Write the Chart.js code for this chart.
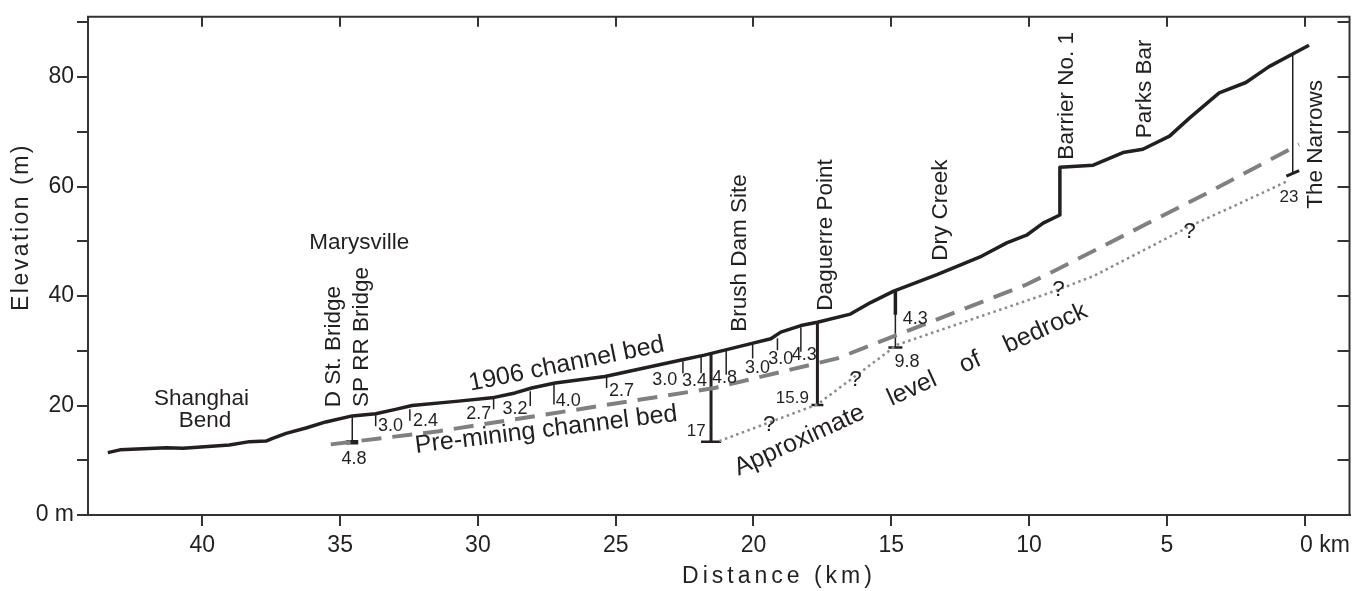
<!DOCTYPE html>
<html>
<head>
<meta charset="utf-8">
<script src="https://cdn.jsdelivr.net/npm/chart.js@4.4.1/dist/chart.umd.min.js"></script>
<style>
  html, body { margin: 0; padding: 0; background: #fff; }
  #wrap { width: 1362px; height: 591px; position: relative; }
</style>
</head>
<body>
<div id="wrap"><canvas id="profile"></canvas></div>
<script>
// Yuba River profile, distance measured upstream of The Narrows
const INK = '#231f20';
const GREY = '#808080';
const FONT = '"Liberation Sans", Arial, Helvetica, sans-serif';

// 1906 channel bed
const bed1906Km = [43.43, 42.99, 41.30, 40.70, 39.02, 38.29, 37.69, 37.45, 36.96, 36.24, 35.52, 34.56,
  33.71, 32.99, 32.39, 30.70, 29.49, 28.65, 28.05, 27.20, 25.39, 22.62, 21.78, 20.09, 19.37, 19.01,
  18.28, 17.68, 16.48, 15.75, 14.91, 13.34, 11.71, 10.81, 10.09, 9.49, 8.88, 8.88, 7.67, 6.59, 5.87,
  4.90, 4.18, 3.10, 2.13, 1.29, -0.16];
const bed1906M = [11.4, 11.9, 12.3, 12.2, 12.8, 13.4, 13.5, 14.0, 14.9, 15.9, 17.0, 18.1,
  18.5, 19.3, 20.0, 20.8, 21.4, 22.3, 23.2, 24.1, 25.3, 28.3, 29.2, 31.3, 32.2, 33.4,
  34.6, 35.2, 36.7, 38.8, 40.9, 43.9, 47.3, 49.7, 51.1, 53.3, 54.8, 63.5, 63.9, 66.2, 66.8,
  69.2, 72.5, 77.1, 79.0, 81.9, 85.8];

// Pre-mining channel bed
const preMiningKm = [35.34, 31.42, 21.42, 16.96, 10.09, 9.00, 3.46, 0.20];
const preMiningM = [12.9, 15.3, 23.2, 28.6, 42.1, 44.8, 59.0, 67.7];

// Approximate level of bedrock
const bedrockKm = [21.24, 17.68, 14.78, 9.24, 7.68, 4.06, 2.49, 0.57];
const bedrockM = [13.5, 20.2, 31.1, 40.6, 43.6, 53.0, 56.6, 61.1];

// long measured sections (1906 bed down to bedrock / pre-mining bed)
const gaugeKm = [34.56, 21.54, 17.68, 14.85, 0.43];
const gaugeTop = [18.1, 29.4, 35.2, 40.9, 84.3];
const gaugeBottom = [13.3, 13.4, 20.1, 30.6, 62.4];
const gaugeLabels = ['4.8', '17', '15.9', '9.8', '23'];

// Dry Creek: fill above the pre-mining bed
const dryCreekKm = [14.85];
const dryCreekTop = [40.9];
const dryCreekBottom = [36.6];
const dryCreekLabels = ['4.3'];

// short thickness ticks along the 1906 bed
const fillKm = [33.71, 32.47, 29.43, 28.10, 27.24, 25.33, 22.56, 21.90, 20.99, 20.03, 19.13, 18.28];
const fillTop = [18.6, 19.3, 21.4, 22.6, 23.8, 25.3, 28.1, 28.9, 30.1, 31.3, 32.3, 34.3];
const fillBottom = [16.2, 17.2, 19.3, 19.9, 20.2, 23.2, 25.9, 25.9, 25.6, 28.6, 30.1, 29.8];
const fillLabels = ['3.0', '2.4', '2.7', '3.2', '4.0', '2.7', '3.0', '3.4', '4.8', '3.0', '3.0', '4.3'];

const xTickKm = [40, 35, 30, 25, 20, 15, 10, 5, 0];
const yTickM = [0, 10, 20, 30, 40, 50, 60, 70, 80, 90];

// ---- layout / styles ----
const gaugeWidth = [1.5, 3, 3, 1.5, 1.5];
const gaugeCap = [6, 10, 6, 7, 7];
const gaugeCapWidth = [4.5, 2.5, 2.5, 2.5, 3];
const gaugeCapRot = [0, 0, 0, 0, -24];
const gaugeLabelPos = [[34.5, 10.3, 18], [22.08, 15.35, 17], [18.59, 21.4, 17], [14.43, 28.0, 18], [0.565, 58.1, 17]];
const dryCreekLabelPos = [[14.13, 35.8, 18]];
const fillLabelPos = [[33.17, 16.25], [31.90, 17.15], [29.97, 18.36], [28.65, 19.27], [26.72, 20.76],
  [24.79, 22.57], [23.22, 24.68], [22.14, 24.5], [21.05, 24.97], [19.85, 26.9], [19.01, 28.58], [18.16, 29.2]];

const notes = [
  { t: 'Shanghai', km: 40.03, m: 21.3 },
  { t: 'Bend', km: 39.9, m: 17.15 },
  { t: 'Marysville', km: 34.31, m: 49.8 },
  { t: 'D St. Bridge', km: 35.24, m: 30.75, rot: -90 },
  { t: 'SP RR Bridge', km: 34.22, m: 32.5, rot: -90 },
  { t: 'Brush Dam Site', km: 20.51, m: 47.85, rot: -90 },
  { t: 'Daguerre Point', km: 17.38, m: 51.15, rot: -90 },
  { t: 'Dry Creek', km: 13.22, m: 55.67, rot: -90 },
  { t: 'Barrier No. 1', km: 8.64, m: 76.56, rot: -90 },
  { t: 'Parks Bar', km: 5.81, m: 77.82, rot: -90 },
  { t: 'The Narrows', km: -0.40, m: 67.71, rot: -90 },
  { t: '1906 channel bed', km: 26.78, m: 27.54, rot: -11.5, size: 25 },
  { t: 'Pre-mining channel bed', km: 27.52, m: 15.53, rot: -7, size: 25 },
  { t: 'Approximate    level    of    bedrock', km: 14.29, m: 22.88, rot: -24.5, size: 25 },
  { t: '?', km: 19.43, m: 16.56 },
  { t: '?', km: 16.3, m: 24.68 },
  { t: '?', km: 8.93, m: 41.08 },
  { t: '?', km: 4.18, m: 51.77 }
];

function pts(xs, ys) {
  return xs.map((v, i) => ({ x: v, y: ys[i] }));
}

function segment(km, top, bottom, width, cap, capWidth, capRot) {
  return {
    data: [{ x: km, y: top }, { x: km, y: bottom }],
    showLine: true,
    borderColor: INK,
    borderWidth: width,
    pointStyle: 'line',
    pointRadius: [0, cap],
    pointBorderWidth: [0, capWidth],
    pointBorderColor: INK,
    pointRotation: [0, capRot]
  };
}

const datasets = [
  {
    data: pts(bedrockKm, bedrockM), showLine: true, borderColor: '#8a8a8a', borderWidth: 2.5,
    borderDash: [2.5, 3.5], pointRadius: 0
  },
  {
    data: pts(preMiningKm, preMiningM), showLine: true, borderColor: GREY, borderWidth: 4,
    borderDash: [20, 11], pointRadius: 0
  },
  {
    data: pts(bed1906Km, bed1906M), showLine: true, borderColor: INK, borderWidth: 3.5,
    pointRadius: 0, borderJoinStyle: 'round'
  }
];
gaugeKm.forEach((km, i) => {
  datasets.push(segment(km, gaugeTop[i], gaugeBottom[i], gaugeWidth[i], gaugeCap[i], gaugeCapWidth[i], gaugeCapRot[i]));
});
dryCreekKm.forEach((km, i) => {
  datasets.push(segment(km, dryCreekTop[i], dryCreekBottom[i], 3.5, 0, 0, 0));
});
fillKm.forEach((km, i) => {
  datasets.push(segment(km, fillTop[i], fillBottom[i], 1.5, 0, 0, 0));
});

function drawText(ctx, scaleX, scaleY, text, km, m, size, rot) {
  const px = scaleX.getPixelForValue(km);
  const py = scaleY.getPixelForValue(m);
  ctx.save();
  ctx.translate(px, py);
  if (rot) ctx.rotate(rot * Math.PI / 180);
  ctx.font = size + 'px ' + FONT;
  ctx.fillStyle = INK;
  ctx.textAlign = 'center';
  ctx.textBaseline = 'middle';
  ctx.fillText(text, 0, 0);
  ctx.restore();
}

const decor = {
  id: 'decor',
  afterDraw(chart) {
    const { ctx, chartArea: a, scales: { x, y } } = chart;
    ctx.save();
    ctx.strokeStyle = '#333';
    ctx.lineWidth = 2;
    ctx.beginPath();
    ctx.moveTo(a.left - 1, a.top);
    ctx.lineTo(a.right, a.top);
    ctx.lineTo(a.right, a.bottom + 1);
    // top ticks, pointing in
    xTickKm.forEach(v => {
      const px = Math.round(x.getPixelForValue(v));
      ctx.moveTo(px, a.top);
      ctx.lineTo(px, a.top + 10);
    });
    // right ticks, pointing in
    yTickM.forEach(v => {
      const py = Math.round(y.getPixelForValue(v));
      ctx.moveTo(a.right - 12, py);
      ctx.lineTo(a.right, py);
    });
    // unlabelled ticks on the left
    yTickM.filter(v => v % 20 !== 0).forEach(v => {
      const py = Math.round(y.getPixelForValue(v));
      ctx.moveTo(a.left - 11, py);
      ctx.lineTo(a.left, py);
    });
    ctx.stroke();
    ctx.restore();

    notes.forEach(n => drawText(ctx, x, y, n.t, n.km, n.m, n.size || 22.5, n.rot || 0));
    gaugeLabels.forEach((t, i) => {
      const p = gaugeLabelPos[i];
      drawText(ctx, x, y, t, p[0], p[1], p[2], 0);
    });
    dryCreekLabels.forEach((t, i) => {
      const p = dryCreekLabelPos[i];
      drawText(ctx, x, y, t, p[0], p[1], p[2], 0);
    });
    fillLabels.forEach((t, i) => {
      const p = fillLabelPos[i];
      drawText(ctx, x, y, t, p[0], p[1], 18, 0);
    });

    // axis titles, spaced out like the original
    ctx.save();
    ctx.fillStyle = INK;
    ctx.font = '23px ' + FONT;
    ctx.textAlign = 'center';
    ctx.textBaseline = 'middle';
    ctx.letterSpacing = '4px';
    ctx.fillText('Distance (km)', 779, 577);
    ctx.translate(22, 228);
    ctx.rotate(-Math.PI / 2);
    ctx.letterSpacing = '2.5px';
    ctx.fillText('Elevation (m)', 1, 0);
    ctx.restore();
  }
};

new Chart(document.getElementById('profile'), {
  type: 'scatter',
  data: { datasets },
  plugins: [decor],
  options: {
    responsive: true,
    maintainAspectRatio: false,
    animation: false,
    events: [],
    layout: { padding: { top: 11, right: 8, left: 0, bottom: 0 } },
    plugins: { legend: { display: false }, tooltip: { enabled: false } },
    scales: {
      x: {
        type: 'linear',
        reverse: true,
        min: -1.63,
        max: 44.15,
        afterFit: s => { s.height = 76; },
        border: { color: '#333', width: 2 },
        grid: { drawOnChartArea: false, tickLength: 11, color: '#333', lineWidth: 2 },
        ticks: {
          stepSize: 5,
          includeBounds: false,
          padding: 6,
          color: INK,
          font: { family: FONT, size: 23 },
          maxRotation: 0,
          callback: v => v === 0 ? '\u2002\u2002\u2002 0 km' : String(v)
        }
      },
      y: {
        min: 0,
        max: 91,
        afterFit: s => { s.width = 88; },
        border: { color: '#333', width: 2 },
        grid: { drawOnChartArea: false, tickLength: 11, color: '#333', lineWidth: 2 },
        ticks: {
          stepSize: 20,
          includeBounds: false,
          padding: 3,
          color: INK,
          font: { family: FONT, size: 23 },
          callback: v => v === 0 ? '0 m' : String(v)
        }
      }
    }
  }
});
</script>
</body>
</html>
